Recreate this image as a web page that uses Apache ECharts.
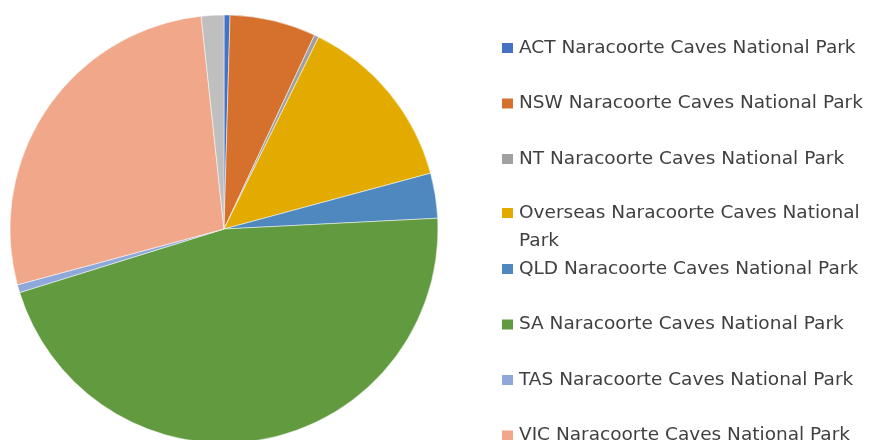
<!DOCTYPE html>
<html>
<head>
<meta charset="utf-8">
<script src="https://cdn.jsdelivr.net/npm/echarts@6/dist/echarts.min.js"></script>
<style>
  html, body { margin: 0; padding: 0; background: #fff; }
  #chart { width: 869px; height: 440px; }
</style>
</head>
<body>
<div id="chart"></div>
<script>
// share of visitors by origin (percent)
var regions = ["ACT", "NSW", "NT", "Overseas", "QLD", "SA", "TAS", "VIC", "WA"];
var shares = [0.45, 6.5, 0.35, 13.5, 3.4, 46.0, 0.6, 27.5, 1.7];
var colors = ["#4472C4", "#D5702D", "#A0A0A0", "#E3AB00", "#4F88BE", "#629B3F", "#8EA8DA", "#F0A78A", "#BFBFBF"];
var suffix = " Naracoorte Caves National Park";

var names = regions.map(r => r + suffix);
var data = [];
for (var i = 0; i < names.length; i++) {
    data.push({ name: names[i], value: shares[i], itemStyle: { color: colors[i] } });
}

var textStyle = { fontFamily: "DejaVu Sans", fontSize: 18.5, color: "#404040", lineHeight: 20 };
function legendBase(top, items) {
    return {
        orient: "vertical",
        left: 500,
        top: top,
        height: 400,
        itemWidth: 13,
        itemHeight: 12,
        itemGap: 35.5,
        padding: 0,
        icon: "rect",
        selectedMode: false,
        textStyle: textStyle,
        data: items
    };
}

var chart = echarts.init(document.getElementById("chart"), null, { renderer: "canvas" });
var option = {
    animation: false,
    legend: [
        legendBase(38, names.slice(0, 3)),
        // overseas wraps onto a second line below the icon
        Object.assign(legendBase(171, names.slice(3, 4)), {
            textStyle: Object.assign({}, textStyle, { lineHeight: 28 }),
            formatter: function (n) { return "\n" + n.replace(" Park", "\nPark"); }
        }),
        legendBase(259, names.slice(4))
    ],
    series: [{
        type: "pie",
        center: [224, 229],
        radius: 214,
        startAngle: 90,
        clockwise: true,
        label: { show: false },
        labelLine: { show: false },
        emphasis: { disabled: true },
        itemStyle: { borderColor: "#fff", borderWidth: 0.5 },
        data: data
    }]
};
chart.setOption(option);
</script>
</body>
</html>
